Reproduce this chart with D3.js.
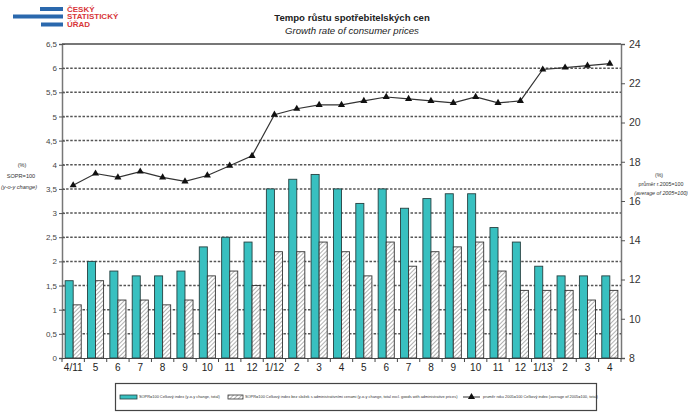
<!DOCTYPE html>
<html><head><meta charset="utf-8">
<script src="https://cdn.jsdelivr.net/npm/d3@7"></script>
<style>body{margin:0;background:#fff} svg{display:block;font-family:Arial,"Liberation Sans",sans-serif}</style>
</head><body><svg id="c" width="688" height="414"></svg>
<script>
const categories = ["4/11","5","6","7","8","9","10","11","12","1/12","2","3","4","5","6","7","8","9","10","11","12","1/13","2","3","4"];
const yoyTotal = [1.6,2.0,1.8,1.7,1.7,1.8,2.3,2.5,2.4,3.5,3.7,3.8,3.5,3.2,3.5,3.1,3.3,3.4,3.4,2.7,2.4,1.9,1.7,1.7,1.7];
const yoyExclAdmin = [1.1,1.6,1.2,1.2,1.1,1.2,1.7,1.8,1.5,2.2,2.2,2.4,2.2,1.7,2.4,1.9,2.2,2.3,2.4,1.8,1.4,1.4,1.4,1.2,1.4];
const avg2005 = [16.8,17.4,17.2,17.5,17.2,17.0,17.3,17.8,18.3,20.4,20.7,20.9,20.9,21.1,21.3,21.2,21.1,21.0,21.3,21.0,21.1,22.7,22.8,22.9,23.0];
const leftTicks = [0,0.5,1,1.5,2,2.5,3,3.5,4,4.5,5,5.5,6,6.5];
const rightTicks = [8,10,12,14,16,18,20,22,24];
const seriesNames = [
  "SOPR=100 Celkový index (y-o-y change, total)",
  "SOPR=100 Celkový index bez složek s administrativními cenami (y-o-y change, total excl. goods with administrative prices)",
  "průměr roku 2005=100 Celkový index (average of 2005=100, total)"
];

const svg = d3.select("#c");
const L = 62, R = 621, T = 44, B = 358;
const teal = "#38c0c0";

const defs = svg.append("defs");
const pat = defs.append("pattern").attr("id","hatch").attr("patternUnits","userSpaceOnUse")
  .attr("width",3).attr("height",3).attr("patternTransform","rotate(45)");
pat.append("rect").attr("width",3).attr("height",3).attr("fill","#fff");
pat.append("line").attr("x1",0).attr("y1",0).attr("x2",0).attr("y2",3).attr("stroke","#666").attr("stroke-width",1);

const x = d3.scaleBand().domain(d3.range(categories.length)).range([L,R]).paddingInner(0.28).paddingOuter(0.14);
const xs = d3.scaleBand().domain([0,1]).range([0,x.bandwidth()]);
const yL = d3.scaleLinear().domain([0,6.5]).range([B,T]);
const yR = d3.scaleLinear().domain([8,24]).range([B,T]);

// logo
const logo = svg.append("g");
[[40,7,23,4],[13,14.5,50,4],[41,22.5,22,4]].forEach(r=>logo.append("rect").attr("x",r[0]).attr("y",r[1]).attr("width",r[2]).attr("height",r[3]).attr("fill","#2a68ad"));
[["ČESKÝ",11.5],["STATISTICKÝ",19],["ÚŘAD",27]].forEach(t=>logo.append("text").attr("x",67).attr("y",t[1]).text(t[0])
  .attr("font-size",8).attr("font-weight","bold").attr("fill","#d8363a"));

// titles
svg.append("text").attr("x",352).attr("y",21).attr("text-anchor","middle").attr("font-size",9.6).attr("font-weight","bold").attr("fill","#222").text("Tempo růstu spotřebitelských cen");
svg.append("text").attr("x",352).attr("y",34).attr("text-anchor","middle").attr("font-size",9.6).attr("font-style","italic").attr("fill","#222").text("Growth rate of consumer prices");

// grid
svg.append("g").selectAll("line").data(leftTicks.filter(d=>d>0 && d<6.5)).join("line")
  .attr("x1",L).attr("x2",R).attr("y1",d=>yL(d)).attr("y2",d=>yL(d))
  .attr("stroke","#555").attr("stroke-width",1.5).attr("stroke-dasharray","2.5,1.6");

// bars
const g = svg.append("g");
g.selectAll("rect.t").data(yoyTotal).join("rect").attr("class","t")
  .attr("x",(d,i)=>x(i)+xs(0)).attr("width",xs.bandwidth()).attr("y",d=>yL(d)).attr("height",d=>B-yL(d))
  .attr("fill",teal).attr("stroke","#264040").attr("stroke-width",0.9);
g.selectAll("rect.h").data(yoyExclAdmin).join("rect").attr("class","h")
  .attr("x",(d,i)=>x(i)+xs(1)).attr("width",xs.bandwidth()).attr("y",d=>yL(d)).attr("height",d=>B-yL(d))
  .attr("fill","url(#hatch)").attr("stroke","#333").attr("stroke-width",0.9);

// line
const cx = i => x(i)+x.bandwidth()/2;
svg.append("path").datum(avg2005).attr("fill","none").attr("stroke","#333").attr("stroke-width",1.2)
  .attr("d",d3.line().x((d,i)=>cx(i)).y(d=>yR(d)));
const tri = d3.symbol().type(d3.symbolTriangle).size(22);
svg.append("g").selectAll("path").data(avg2005).join("path")
  .attr("transform",(d,i)=>`translate(${cx(i)},${yR(d)})`).attr("d",tri).attr("fill","#111");

// frame
svg.append("line").attr("x1",L).attr("x2",R).attr("y1",T).attr("y2",T).attr("stroke","#777").attr("stroke-width",2);

// axes
const axL = svg.append("g").attr("transform",`translate(${L},0)`)
  .call(d3.axisLeft(yL).tickValues(leftTicks).tickSize(3).tickFormat(d=>String(d).replace(".",",")));
axL.select(".domain").attr("stroke","#777").attr("stroke-width",1.5);
axL.selectAll(".tick line").attr("stroke","#555").attr("x2",-3).attr("x1",3);
axL.selectAll(".tick text").attr("font-size",8).attr("fill","#444").attr("x",-5).attr("font-family","Arial");

const axR = svg.append("g").attr("transform",`translate(${R},0)`)
  .call(d3.axisRight(yR).tickValues(rightTicks).tickSize(4).tickFormat(d3.format("d")));
axR.select(".domain").attr("stroke","#777").attr("stroke-width",1.5);
axR.selectAll(".tick line").attr("stroke","#555");
axR.selectAll(".tick text").attr("font-size",10.5).attr("fill","#333").attr("x",8).attr("font-family","Arial");

const axB = svg.append("g").attr("transform",`translate(0,${B})`)
  .call(d3.axisBottom(x).tickSize(0).tickFormat(i=>categories[i]));
axB.select(".domain").attr("stroke","#444").attr("stroke-width",1.2);
axB.selectAll(".tick text").attr("font-size",10).attr("fill","#222").attr("y",6).attr("font-family","Arial");
svg.append("g").selectAll("line").data(d3.range(categories.length+1)).join("line")
  .attr("x1",i=>L+i*x.step()).attr("x2",i=>L+i*x.step()).attr("y1",B).attr("y2",B+4)
  .attr("stroke","#444");

// axis titles
const lt = svg.append("g").attr("font-size",5.6).attr("fill","#333").attr("text-anchor","middle");
lt.append("text").attr("x",22).attr("y",167).text("(%)");
lt.append("text").attr("x",21).attr("y",178).text("SOPR=100");
lt.append("text").attr("x",19).attr("y",189).attr("font-style","italic").text("(y-o-y change)");
const rt = svg.append("g").attr("font-size",5.3).attr("fill","#333").attr("text-anchor","middle");
rt.append("text").attr("x",659).attr("y",177).text("(%)");
rt.append("text").attr("x",661).attr("y",186).text("průměr r.2005=100");
rt.append("text").attr("x",661).attr("y",195).attr("font-style","italic").text("(average of 2005=100)");

// legend
const lg = svg.append("g");
lg.append("rect").attr("x",115.5).attr("y",383.5).attr("width",481).attr("height",27).attr("fill","#fff").attr("stroke","#444").attr("stroke-width",1.2);
const ly = 397;
lg.append("rect").attr("x",120).attr("y",ly-2).attr("width",17).attr("height",4).attr("fill",teal).attr("stroke","#264040").attr("stroke-width",0.8);
lg.append("text").attr("x",139).attr("y",ly+1.3).attr("font-size",3.9).attr("fill","#333").text(seriesNames[0]);
lg.append("rect").attr("x",228).attr("y",ly-2).attr("width",15).attr("height",4).attr("fill","url(#hatch)").attr("stroke","#333").attr("stroke-width",0.8);
lg.append("text").attr("x",245).attr("y",ly+1.3).attr("font-size",3.9).attr("fill","#333").text(seriesNames[1]);
lg.append("line").attr("x1",463).attr("x2",480).attr("y1",ly).attr("y2",ly).attr("stroke","#333").attr("stroke-width",1);
lg.append("path").attr("transform",`translate(471.5,${ly})`).attr("d",tri).attr("fill","#111");
lg.append("text").attr("x",483).attr("y",ly+1.3).attr("font-size",3.9).attr("fill","#333").text(seriesNames[2]);
</script></body></html>
